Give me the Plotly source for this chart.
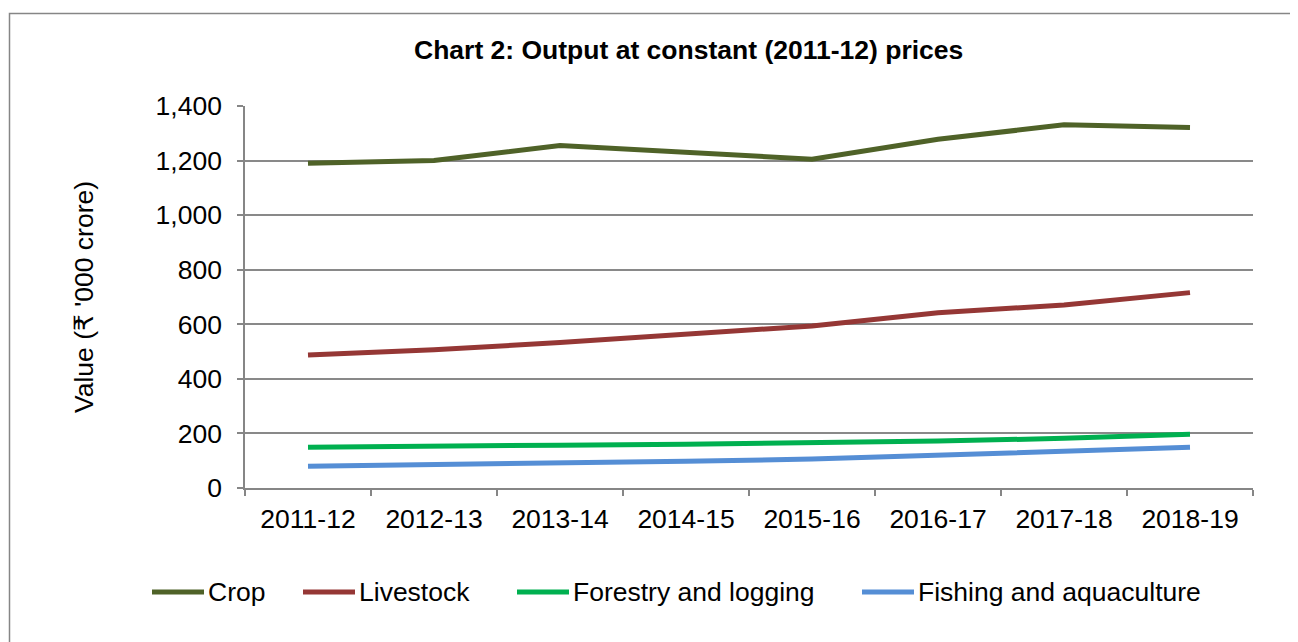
import plotly.graph_objects as go

years = ["2011-12", "2012-13", "2013-14", "2014-15", "2015-16", "2016-17", "2017-18", "2018-19"]
crop = [1190, 1200, 1255, 1230, 1205, 1278, 1331, 1321]
livestock = [487, 507, 533, 563, 594, 642, 671, 716]
forestry = [149, 151, 157, 160, 164, 172, 182, 197]
fishing = [80, 85, 91, 98, 106, 120, 137, 149]

series_names = ["Crop", "Livestock", "Forestry and logging", "Fishing and aquaculture"]
series_values = [crop, livestock, forestry, fishing]
colors = ["#4F6228", "#953735", "#00B050", "#558ED5"]

y_ticks = [0, 200, 400, 600, 800, 1000, 1200, 1400]

FONT = "Liberation Sans, Arial, DejaVu Sans, sans-serif"
FS = 26.5
LW = 5

fig = go.Figure()
for name, vals, col in zip(series_names, series_values, colors):
    fig.add_trace(go.Scatter(
        x=years, y=vals, name=name, mode="lines",
        line=dict(color=col, width=LW), showlegend=False,
    ))

# page has an 8px body margin: figure coordinates = screen - 8
W, H = 1298, 642
L, T = 237, 98
R = W - 1245
B = H - 480
pw, ph = W - L - R, H - T - B

def px_x(x):
    return (x - L) / pw

def px_y(y):
    return (H - B - y) / ph

# custom legend (long line samples like the original)
legend_line_x = [144, 295, 509, 854]
legend_y = 584
shapes = [dict(
    type="rect", xref="paper", yref="paper",
    x0=px_x(1.5), x1=px_x(1320), y0=px_y(700), y1=px_y(5.5),
    line=dict(color="#868686", width=1.5), fillcolor="rgba(0,0,0,0)", layer="below",
)]
annotations = [dict(
    text="<b>Chart 2: Output at constant (2011-12) prices</b>",
    xref="paper", yref="paper", x=px_x(680), y=px_y(42),
    xanchor="center", yanchor="middle", showarrow=False,
    font=dict(size=26.5, family=FONT, color="black"),
)]
for name, col, lx in zip(series_names, colors, legend_line_x):
    shapes.append(dict(
        type="line", xref="paper", yref="paper",
        x0=px_x(lx), x1=px_x(lx + 52), y0=px_y(legend_y), y1=px_y(legend_y),
        line=dict(color=col, width=LW),
    ))
    annotations.append(dict(
        text=name, xref="paper", yref="paper", x=px_x(lx + 54), y=px_y(legend_y),
        xanchor="left", yanchor="middle", showarrow=False,
        font=dict(size=FS, family=FONT, color="black"),
    ))

fig.update_layout(
    width=W, height=H,
    margin=dict(l=L, r=R, t=T, b=B),
    paper_bgcolor="white", plot_bgcolor="white",
    font=dict(family=FONT, size=FS, color="black"),
    showlegend=False,
    xaxis=dict(
        type="category", range=[-0.5, 7.5],
        showline=True, linecolor="#868686", linewidth=1.5,
        ticks="outside", tickson="boundaries", ticklen=6, tickcolor="#868686", tickwidth=1.5,
        showgrid=False, tickfont=dict(size=FS), ticklabelstandoff=6,
    ),
    yaxis=dict(
        range=[0, 1400], tickvals=y_ticks, tickformat=",d",
        showline=True, linecolor="#868686", linewidth=1.5,
        ticks="outside", ticklen=6, tickcolor="#868686", tickwidth=1.5,
        showgrid=True, gridcolor="#898989", gridwidth=1.5,
        zeroline=False, tickfont=dict(size=FS), ticklabelstandoff=10,
        title=dict(text="Value (₹ '000 crore)", font=dict(size=FS), standoff=54),
    ),
    shapes=shapes,
    annotations=annotations,
)

fig.write_html("out.html")
